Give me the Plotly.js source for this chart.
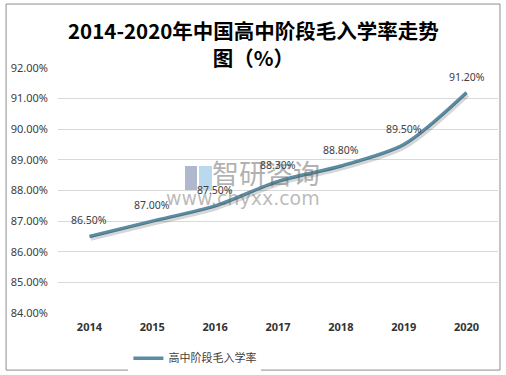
<!DOCTYPE html>
<html><head><meta charset="utf-8">
<script src="https://cdn.plot.ly/plotly-3.0.1.min.js"></script>
<style>html,body{margin:0;padding:0;background:#fff;}#chart{width:506px;height:375px;}</style>
</head><body><div id="chart"></div>
<script>
const years = ['2014','2015','2016','2017','2018','2019','2020'];
const rates = [86.5, 87.0, 87.5, 88.3, 88.8, 89.5, 91.2];
const labels = ['86.50%','87.00%','87.50%','88.30%','88.80%','89.50%','91.20%'];
const yTicks = [84,85,86,87,88,89,90,91,92];
const yTickText = ['84.00%','85.00%','86.00%','87.00%','88.00%','89.00%','90.00%','91.00%','92.00%'];
const seriesName = '高中阶段毛入学率';
const titleText = '2014-2020年中国高中阶段毛入学率走势<br>图（%）';

const numFont = 'Noto Sans, DejaVu Sans, sans-serif';
const cjkFont = '"Noto Sans CJK SC", sans-serif';

const shadow = {
  x: years, y: rates, type: 'scatter', mode: 'lines', xaxis: 'x2', yaxis: 'y2',
  showlegend: false, hoverinfo: 'skip',
  line: {color: 'rgba(0,0,0,0.16)', width: 4, shape: 'spline', smoothing: 0.8}
};
const trace = {
  x: years, y: rates, type: 'scatter', mode: 'lines',
  name: seriesName,
  line: {color: '#5b8ca2', width: 3.5, shape: 'spline', smoothing: 0.8}
};

// category axis: annotations use the category index
const labelAnns = years.map((yr, i) => ({
  x: i, y: rates[i], xref: 'x', yref: 'y', text: labels[i], showarrow: false,
  yshift: 16, xanchor: 'center', yanchor: 'middle',
  font: {family: numFont, size: 10.5, color: '#404040'}
}));

const layout = {
  width: 506, height: 375,
  margin: {l: 58, r: 8, t: 68, b: 62, autoexpand: false},
  paper_bgcolor: '#fff', plot_bgcolor: '#fff',
  xaxis: {type: 'category', range: [-0.5, 6.5], showgrid: false, zeroline: false, showline: false, ticks: '',
    automargin: false,
    tickfont: {family: numFont, size: 11, color: '#333', weight: 'bold'}, ticklabelstandoff: 6},
  yaxis: {range: [84, 92], tickvals: yTicks, ticktext: yTickText, showgrid: true,
    gridcolor: '#d9d9d9', gridwidth: 1, zeroline: false, showline: false, ticks: '', automargin: false,
    tickfont: {family: numFont, size: 11, color: '#404040'}, ticklabelstandoff: 9},
  xaxis2: {type: 'category', range: [-0.52, 6.48], overlaying: 'x', visible: false},
  yaxis2: {range: [84.08, 92.08], overlaying: 'y', visible: false},
  showlegend: true,
  legend: {orientation: 'h', x: 0.16, xanchor: 'left', y: -0.125, yanchor: 'top',
    font: {family: cjkFont, size: 11, color: '#404040'}, itemwidth: 30},
  shapes: [
    {type: 'rect', xref: 'paper', yref: 'paper', x0: -0.118, x1: 1.0045, y0: -0.233, y1: 1.261,
     line: {color: '#8c8c8c', width: 1}, fillcolor: 'rgba(0,0,0,0)'},
    {type: 'rect', xref: 'paper', yref: 'paper', x0: 0.2886, x1: 0.3159, y0: 0.502, y1: 0.6,
     line: {width: 0}, fillcolor: 'rgba(110,125,165,0.55)', layer: 'below'},
    {type: 'rect', xref: 'paper', yref: 'paper', x0: 0.3205, x1: 0.35, y0: 0.502, y1: 0.6,
     line: {width: 0}, fillcolor: 'rgba(130,185,225,0.55)', layer: 'below'}
  ],
  annotations: [
    {text: titleText, xref: 'paper', yref: 'paper', x: 0.445, y: 1.1, xanchor: 'center', yanchor: 'middle',
     showarrow: false, align: 'center',
     font: {family: '"Noto Sans CJK SC", serif', size: 20.5, color: '#000', weight: 'bold'}},
    {text: '智研咨询', xref: 'paper', yref: 'paper', x: 0.6, y: 0.572, xanchor: 'right', yanchor: 'middle',
     showarrow: false, font: {family: cjkFont, size: 27, color: 'rgba(100,100,100,0.5)'}},
    {text: 'www.chyxx.com', xref: 'paper', yref: 'paper', x: 0.42, y: 0.47, xanchor: 'center', yanchor: 'middle',
     showarrow: false, font: {family: 'DejaVu Sans, sans-serif', size: 19, color: 'rgba(100,100,100,0.45)'}}
  ].concat(labelAnns)
};

Plotly.newPlot('chart', [shadow, trace], layout, {displayModeBar: false, staticPlot: true});
</script></body></html>
